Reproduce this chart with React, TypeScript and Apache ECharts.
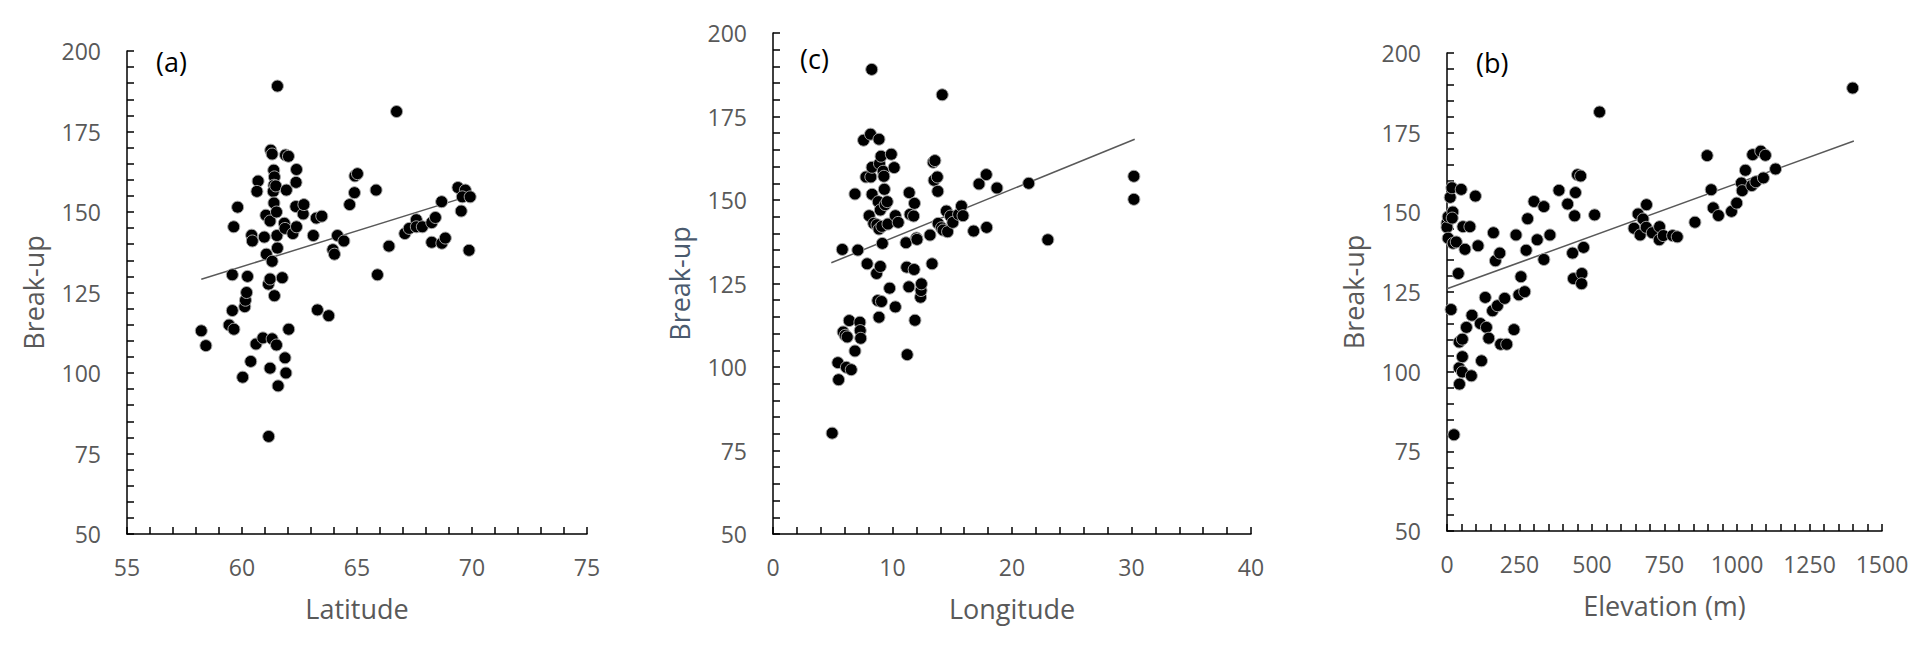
import React, { useEffect, useRef } from "react";
import * as echarts from "echarts";

// Panel (a): Latitude vs Break-up
const latA = [58.23,58.43,59.58,59.64,59.81,59.58,59.44,59.65,60.03,60.12,60.15,60.2,60.24,60.42,60.45,60.38,60.61,60.91,60.7,60.65,60.97,61.04,61.06,61.15,61.22,61.25,61.31,61.38,61.41,61.39,61.36,61.39,61.5,61.22,61.31,61.41,61.52,61.54,61.47,61.54,61.16,61.22,61.31,61.5,61.57,61.87,61.91,61.75,61.84,61.87,61.93,61.89,62.02,62.03,62.21,62.34,62.37,62.35,62.37,62.66,62.69,63.1,63.23,63.47,63.28,63.77,63.95,64.02,64.15,64.43,64.68,64.89,64.91,65.02,65.83,65.89,66.39,66.72,67.08,67.27,67.58,67.58,67.84,68.25,68.41,68.25,68.68,68.69,68.84,69.39,69.53,69.71,69.58,69.92,69.87];
const breakA = [113.1,108.5,130.5,145.4,151.5,119.4,114.9,113.6,98.7,120.6,122.6,125.0,130.0,142.8,141.0,103.6,109.0,110.9,159.6,156.4,142.2,149.0,136.9,127.6,147.2,169.2,168.0,163.0,160.9,158.3,156.4,152.8,150.0,129.2,134.7,124.0,142.7,138.8,158.1,189.1,80.3,101.5,110.6,108.7,96.0,104.7,100.0,129.6,146.5,144.9,156.8,167.7,167.3,113.6,143.3,151.7,145.4,159.2,163.2,149.4,152.3,142.7,148.1,148.7,119.6,117.8,138.3,136.9,142.7,141.0,152.3,156.0,161.2,161.9,156.8,130.5,139.4,181.2,143.3,144.9,147.6,145.4,145.4,146.7,148.3,140.6,153.2,140.3,141.9,157.6,150.3,156.8,154.7,154.7,138.1];
const trendA = [[58.23, 129.1], [70.06, 155.4]];

// Panel (c): Longitude vs Break-up
const lonC = [4.95,5.43,5.49,5.8,5.87,6.04,6.21,6.38,6.14,6.55,6.86,6.86,7.1,7.27,7.3,7.34,7.58,7.88,7.78,8.05,8.16,8.19,8.26,8.29,8.29,8.43,8.67,8.7,8.77,8.87,8.87,8.91,8.81,8.87,8.98,8.98,9.04,9.08,9.15,9.11,9.22,9.28,9.32,9.39,9.56,9.62,9.76,9.9,10.14,10.24,10.24,10.48,11.13,11.19,11.23,11.37,11.4,11.47,11.77,11.81,11.88,11.84,12.01,12.05,12.35,12.39,12.42,13.14,13.31,13.41,13.55,13.48,13.75,13.79,13.82,14.1,14.16,14.23,14.51,14.61,14.85,15.05,15.53,15.77,15.9,16.79,17.24,17.85,17.88,18.74,21.4,23.0,30.2,30.2];
const breakC = [80.2,101.3,96.2,135.2,110.5,109.5,109.0,113.9,99.9,99.2,104.8,151.8,135.0,113.4,110.9,108.6,167.9,130.9,156.9,145.3,169.7,156.9,189.1,159.8,151.7,143.0,128.0,142.6,119.9,114.9,168.2,160.9,149.5,141.3,147.0,130.1,163.1,119.6,137.0,142.1,158.6,157.1,153.2,148.6,149.5,142.8,123.6,163.7,159.7,118.0,145.3,143.3,137.2,129.9,103.7,124.0,152.2,145.7,145.2,129.2,114.0,149.0,138.6,138.2,120.9,122.9,124.9,139.5,130.9,161.3,161.8,155.9,156.9,152.6,143.0,141.7,181.5,141.0,146.7,140.5,145.2,143.3,145.7,148.2,145.3,140.7,154.8,157.6,141.8,153.6,155.0,138.1,157.1,150.2];
const trendC = [[4.88, 131.2], [30.27, 168.2]];

// Panel (b): Elevation vs Break-up
const elevB = [0,0,4,4,11,14,17,20,18,21,24,32,39,42,42,43,49,53,53,53,55,62,67,79,84,86,98,107,119,115,132,136,144,157,160,167,174,182,185,199,206,231,238,248,255,268,273,278,300,311,334,334,355,386,416,433,436,440,443,450,461,465,464,471,509,526,645,659,666,676,687,688,708,733,732,746,778,794,855,897,911,918,936,981,999,1015,1018,1029,1051,1054,1065,1082,1091,1098,1133,1399];
const breakB = [146.6,145.3,148.6,141.9,154.7,119.5,157.7,150.1,148.2,140.3,80.2,140.7,130.8,109.3,101.2,96.1,157.2,110.2,104.7,99.9,145.5,138.4,113.9,145.5,98.7,117.7,155.1,139.5,103.4,115.1,123.3,113.9,110.5,119.1,143.6,134.8,120.7,137.2,108.6,123.0,108.6,113.2,142.9,124.1,129.8,125.1,138.1,148.0,153.4,141.4,151.8,135.2,142.9,156.9,152.6,137.2,129.2,148.9,156.2,161.8,161.4,130.8,127.6,139.0,149.2,181.5,145.0,149.5,142.9,147.9,145.3,152.4,143.6,145.5,141.4,142.7,142.7,142.3,146.9,167.8,157.1,151.4,149.0,150.3,152.9,159.2,156.8,163.2,158.4,168.1,159.6,169.2,160.8,167.9,163.6,189.0];
const trendB = [[0, 126.0], [1403, 172.4]];

const yTicks = { min: 50, max: 200, interval: 25 };

const FONT = "Open Sans";
const GRAY = "#595959";

function zip(xs: number[], ys: number[]) {
  return xs.map((x, i) => [x, ys[i]]);
}

const plain = (v: number) => String(v);

function xAxis(idx: number, min: number, max: number, interval: number, name: string) {
  return {
    type: "value",
    gridIndex: idx,
    min,
    max,
    interval,
    name,
    nameLocation: "middle",
    nameGap: 61,
    nameTextStyle: { fontSize: 27, color: GRAY, fontFamily: FONT },
    axisLine: { show: true, onZero: false, lineStyle: { color: "#000", width: 1.5 } },
    axisTick: { show: true, inside: true, length: 7, lineStyle: { color: "#000", width: 1.5 } },
    minorTick: { show: true, splitNumber: 5, length: 7, lineStyle: { color: "#000", width: 1.5 } },
    splitLine: { show: false },
    axisLabel: { color: GRAY, fontSize: 23, fontFamily: FONT, margin: 21, formatter: plain },
  };
}

function yAxis(idx: number, nameColor: string) {
  return {
    type: "value",
    gridIndex: idx,
    min: yTicks.min,
    max: yTicks.max,
    interval: yTicks.interval,
    name: "Break-up",
    nameLocation: "middle",
    nameGap: 80,
    nameTextStyle: { fontSize: 27, color: nameColor, fontFamily: FONT },
    axisLine: { show: true, onZero: false, lineStyle: { color: "#000", width: 1.5 } },
    axisTick: { show: true, inside: true, length: 7, lineStyle: { color: "#000", width: 1.5 } },
    minorTick: { show: true, splitNumber: 5, length: 7, lineStyle: { color: "#000", width: 1.5 } },
    splitLine: { show: false },
    axisLabel: { color: GRAY, fontSize: 23, fontFamily: FONT, margin: 26, formatter: plain },
  };
}

function scatter(idx: number, data: number[][]) {
  return {
    type: "scatter",
    xAxisIndex: idx,
    yAxisIndex: idx,
    data,
    symbolSize: 12,
    itemStyle: { color: "#000", borderColor: "#a6a6a6", borderWidth: 1, opacity: 1 },
    z: 3,
  };
}

function trend(idx: number, data: number[][]) {
  return {
    type: "line",
    xAxisIndex: idx,
    yAxisIndex: idx,
    data,
    showSymbol: false,
    symbol: "none",
    lineStyle: { color: "#595959", width: 1.5 },
    z: 2,
  };
}

function panelLabel(text: string, x: number, y: number) {
  return {
    type: "text",
    x,
    y,
    style: { text, fontSize: 27, fontFamily: FONT, fill: "#000", verticalAlign: "middle", align: "left" },
  };
}

export default function App() {
  const ref = useRef<HTMLDivElement>(null);
  useEffect(() => {
    if (!ref.current) return;
    const chart = echarts.init(ref.current, null, { renderer: "svg" });
    chart.setOption({
      animation: false,
      backgroundColor: "#fff",
      grid: [
        { left: 127, top: 51, width: 460, height: 483 },
        { left: 773, top: 33, width: 478, height: 501 },
        { left: 1447, top: 53, width: 435, height: 478 },
      ],
      xAxis: [
        xAxis(0, 55, 75, 5, "Latitude"),
        xAxis(1, 0, 40, 10, "Longitude"),
        xAxis(2, 0, 1500, 250, "Elevation (m)"),
      ],
      yAxis: [yAxis(0, GRAY), yAxis(1, "#4a5a6e"), yAxis(2, GRAY)],
      series: [
        trend(0, trendA),
        scatter(0, zip(latA, breakA)),
        trend(1, trendC),
        scatter(1, zip(lonC, breakC)),
        trend(2, trendB),
        scatter(2, zip(elevB, breakB)),
      ],
      graphic: [
        panelLabel("(a)", 156, 61),
        panelLabel("(c)", 800, 58),
        panelLabel("(b)", 1476, 62),
      ],
    });
    return () => chart.dispose();
  }, []);
  return (
    <div
      ref={ref}
      style={{ position: "absolute", left: 0, top: 0, width: 1930, height: 652, background: "#fff" }}
    />
  );
}
